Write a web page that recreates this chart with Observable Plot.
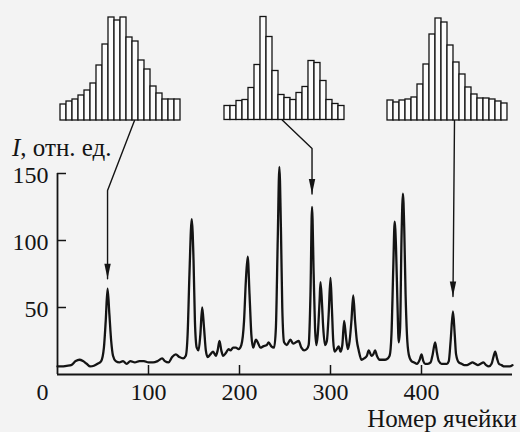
<!DOCTYPE html>
<html><head><meta charset="utf-8">
<script src="https://cdn.jsdelivr.net/npm/d3@7"></script>
<script src="https://cdn.jsdelivr.net/npm/@observablehq/plot@0.6"></script>
<style>
html,body{margin:0;padding:0;background:#f3f3f3;}
#chart{position:relative;width:520px;height:432px;overflow:hidden;background:#f3f3f3;}
#chart svg{position:absolute;overflow:visible;}
</style></head><body><div id="chart"></div>
<script>
// ---- spectrum (cell number, intensity in rel. units) ----
const cells = [0,5,10,15,20,24,28,32,36,40,44,48,51,53,55,57,59,61,64,68,72,76,80,85,90,95,100,105,110,115,118,122,126,130,134,138,141,143,145,147.5,149.5,151,153,155,157,159,161,163,165,168,171,174,176,178,180,182,185,188,190,193,196,199,202,205,207,209,211,213,215,218,220,223,226,230,232,235,238,240,242,243.8,245.5,247,249,252,256,259,262,265,268,271,274,276,278,279.7,281.5,283,284.5,286,288,289,290.5,292,294,296,298,300,301.5,303,304.5,307,309,311,313,315,317,319,321,323,325,327,329,331,334,337,340,342,345,347,349,351,354,357,360,363,365,367,369,370.5,372,373.5,375,376.5,378,379.6,381,382.5,384,386,389,392,395,398,400,402,404,407,410,412,415,417,419,422,425,428,430,432,434.6,436.5,438,441,444,447,450,453,456,459,462,465,468,471,474,477,479,481,483,485,488,491,494,497,500];
const intensity = [6,6,6.5,7,10,11,10,8,6,6.5,8,10,20,40,64,45,25,14,10,9,10,8,10,9,10,10,9,9,10,12,10,9,13,15,13,12,14,30,75,116,85,40,20,18,30,50,35,18,13,15,17,14,18,25,18,14,16,19,18,20,20,19,22,40,70,88,60,30,20,26,24,20,21,22,24,21,20,35,100,155,110,50,24,22,26,23,24,25,20,18,19,22,60,125,75,35,22,30,55,69,55,35,22,25,45,72,50,25,17,19,21,17,22,40,28,19,25,40,59,40,25,18,11,12,14,18,14,15,18,14,11,11,11,12,14,30,80,114,95,55,24,35,100,135,110,60,30,15,10,9,8,11,15,10,8,8,9,14,24,16,10,8,8,8,10,25,47,30,15,9,8,7,7,8,9,8,7,8,9,7,6,8,13,17,12,8,7,6,6,6,7];
const xTicks = [100,200,300,400];
const yTicks = [50,100,150];

// ---- inset histograms (bar heights) ----
const hist1 = [16,19,21,25,30,37,55,76,103,100,103,83,79,60,51,34,27,21,21,21];
const hist2 = [14,14,19,20,32,55,103,83,49,25,22,20,27,33,59,57,39,20,16,14];
const hist3 = [20,18,20,21,23,36,56,86,102,98,75,58,46,33,26,22,22,21,19,17];

// peaks pointed at by arrows
const peakCells = [55, 279.7, 434.6];
const peakValues = [64, 125, 47];

// ---- layout ----
const W = 520, H = 432, mL = 57, mR = 8, mT = 173, mB = 58;
const ink = "#141414";
const font = "Liberation Serif, Times New Roman, serif";
const insets = [
  {data: hist1, left: 57.3, right: 183.3, bottom: 120, attachX: 134, bendY: 190, gap: 10},
  {data: hist2, left: 221, right: 346.7, bottom: 119.5, attachX: 281.7, bendY: 148, gap: 13},
  {data: hist3, left: 384, right: 509.7, bottom: 120, attachX: 454, bendY: null, gap: 15}
];

const sx = Plot.scale({x: {domain: [0, 500], range: [mL, W - mR]}});
const sy = Plot.scale({y: {domain: [0, 150], range: [H - mB, mT]}});

const spectrum = cells.map((c, i) => ({cell: c, value: intensity[i]}));

// connectors: from histogram bottom down to above the peak
const connector = [];
const tips = [];
insets.forEach((ins, i) => {
  const tx = sx.apply(peakCells[i]);
  const ty = sy.apply(peakValues[i]) - ins.gap;
  const pts = [[ins.attachX, ins.bottom]];
  if (ins.bendY != null) pts.push([tx, ins.bendY]);
  pts.push([tx, ty]);
  pts.forEach(([px, py]) => connector.push({id: i, cell: sx.invert(px), value: sy.invert(py)}));
  tips.push({cell: sx.invert(tx), value: sy.invert(ty)});
});

const arrowHead = {draw(ctx) { ctx.moveTo(0, 0); ctx.lineTo(-3.2, -15); ctx.lineTo(3.2, -15); ctx.closePath(); }};

const plotH = H - mT - mB, plotW = W - mL - mR;

const main = Plot.plot({
  width: W, height: H,
  marginLeft: mL, marginRight: mR, marginTop: mT, marginBottom: mB,
  style: {fontFamily: font, fontSize: "24px", color: ink, background: "transparent", overflow: "visible"},
  x: {domain: [0, 500], label: null},
  y: {domain: [0, 150], label: null},
  marks: [
    Plot.ruleX([0], {y1: 0, y2: 150, stroke: ink, strokeWidth: 1.8}),
    Plot.ruleY([0], {x1: 0, x2: 500, stroke: ink, strokeWidth: 1.8}),
    Plot.tickX(xTicks, {x: d => d, insetTop: plotH - 9, stroke: ink, strokeWidth: 1.5}),
    Plot.tickY(yTicks, {y: d => d, insetRight: plotW - 9, stroke: ink, strokeWidth: 1.5}),
    Plot.axisX({ticks: xTicks, tickSize: 0, tickPadding: 8, fontSize: 24, fill: ink, label: null}),
    Plot.axisY({ticks: yTicks, tickSize: 0, tickPadding: 9, fontSize: 24, fill: ink, dy: 2, label: null}),
    Plot.text([0], {x: 0, y: 0, text: d => String(d), textAnchor: "end", dx: -9, dy: 18, fontSize: 24, fill: ink}),
    Plot.line(spectrum, {x: "cell", y: "value", curve: "monotone-x", stroke: ink, strokeWidth: 2.3}),
    Plot.line(connector, {x: "cell", y: "value", z: "id", stroke: ink, strokeWidth: 1.4}),
    Plot.dot(tips, {x: "cell", y: "value", symbol: arrowHead, fill: ink, stroke: "none", r: 4})
  ]
});
main.style.left = "0px"; main.style.top = "0px";
const svg = d3.select(main);
const yl = svg.append("text").attr("x", 12).attr("y", 156).attr("text-anchor", "start").attr("font-family", font).attr("font-size", 25).attr("fill", ink);
yl.append("tspan").attr("font-style", "italic").text("I");
yl.append("tspan").text(", отн. ед.");
svg.append("text").attr("x", 517).attr("y", 427).attr("text-anchor", "end").attr("font-family", font).attr("font-size", 25).attr("fill", ink).text("Номер ячейки");
document.getElementById("chart").appendChild(main);

// insets
insets.forEach(ins => {
  const top = 8, w = ins.right - ins.left + 4, h = ins.bottom - top + 2;
  const p = Plot.plot({
    width: w, height: h,
    marginLeft: 2, marginRight: 2, marginTop: 0, marginBottom: 2,
    style: {background: "transparent", overflow: "visible"},
    x: {type: "band", domain: d3.range(ins.data.length), padding: 0, axis: null},
    y: {domain: [0, h - 2], range: [h - 2, 0], axis: null},
    marks: [
      Plot.barY(ins.data, {x: (d, i) => i, y: d => d, fill: "#fbfbfb", stroke: ink, strokeWidth: 1.3})
    ]
  });
  p.style.left = (ins.left - 2) + "px";
  p.style.top = top + "px";
  document.getElementById("chart").appendChild(p);
});
</script></body></html>
